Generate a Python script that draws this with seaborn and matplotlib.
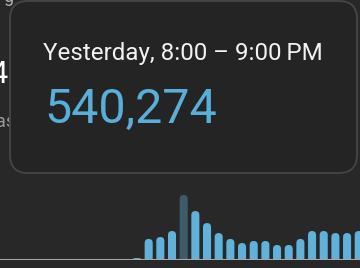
import matplotlib
matplotlib.use("Agg")
import matplotlib.pyplot as plt
from matplotlib.patches import FancyBboxPatch
import numpy as np
import pandas as pd
import seaborn as sns

# ---- data ----
hours = list(range(32))
views = [0, 0, 0, 0, 0, 0, 0, 0, 0, 0, 0, 0,
         16000, 175000, 191000, 241000, 540274, 407000, 307000, 224000,
         175000, 141000, 158000, 158000, 125000, 125000, 175000, 241000,
         241000, 224000, 224000, 241000]
highlight_hour = 16
tooltip_title = "Yesterday, 8:00 \u2013 9:00\u202fPM"
tooltip_value = "540,274"

BG = "#282828"
TIP_BG = "#242424"
BLUE = "#60b2db"
DARK = "#3d5c6b"

sns.set_theme(style="dark")
plt.rcParams["font.family"] = ["Roboto", "DejaVu Sans"]

W, H = 360, 268
fig = plt.figure(figsize=(W / 100, H / 100), dpi=100, facecolor=BG)

# bar axes
base_px = 260
ax_h_px = 84.2
ax = fig.add_axes([0, (H - base_px) / H, 1, ax_h_px / H])
ax.set_facecolor(BG)

df = pd.DataFrame({"hour": hours, "views": views})
df["sel"] = np.where(df["hour"] == highlight_hour, "sel", "norm")
sns.barplot(data=df, x="hour", y="views", hue="sel", dodge=False,
            palette={"norm": BLUE, "sel": DARK}, width=0.69,
            legend=False, ax=ax, saturation=1)

x_left = 0.26
x_right = x_left + W / 11.67
ax.set_xlim(x_left, x_right)
ax.set_ylim(0, 700000)
ax.axis("off")

# rounded tops
x_per_px = (x_right - x_left) / W
y_per_px = 700000 / ax_h_px
ma = y_per_px / x_per_px
old = list(ax.patches)
for p in old:
    x, y = p.get_x(), p.get_y()
    w, h = p.get_width(), p.get_height()
    fc = p.get_facecolor()
    p.remove()
    if not np.isfinite(h) or h <= 0:
        continue
    r = w / 2
    if h < 3 * r * ma:
        r = w / 5
    ry = r * ma
    fb = FancyBboxPatch((x, -2 * ry), w, h + 2 * ry,
                        boxstyle=f"round,pad=0,rounding_size={r}",
                        mutation_aspect=ma, facecolor=fc, edgecolor="none",
                        linewidth=0)
    ax.add_patch(fb)
ax.axhline(0, color="#a6a6a6", lw=1.5, zorder=5)

# overlay for tooltip
ov = fig.add_axes([0, 0, 1, 1], facecolor="none")
ov.set_xlim(0, W)
ov.set_ylim(H, 0)
ov.axis("off")

# partially hidden text behind tooltip
ov.text(3, 2, "g", color="#b0b0b0", fontsize=13, va="baseline", ha="left")
ov.text(9, 83, "14", color="#ffffff", fontsize=22, va="baseline", ha="right")
ov.text(-4, 127, "as", color="#9a9a9a", fontsize=13, va="baseline", ha="left")

tip = FancyBboxPatch((10, 1), 347, 172, boxstyle="round,pad=0,rounding_size=18",
                     facecolor=TIP_BG, edgecolor="#464646", linewidth=1.3,
                     zorder=10)
ov.add_patch(tip)
ov.text(43, 60, tooltip_title, color="#f2f2f2", fontsize=17.4,
        va="baseline", ha="left", zorder=11)
ov.text(44, 123, tooltip_value, color="#5aafd8", fontsize=34.8,
        va="baseline", ha="left", zorder=11)

fig.savefig("out.png", dpi=100, facecolor=BG)
